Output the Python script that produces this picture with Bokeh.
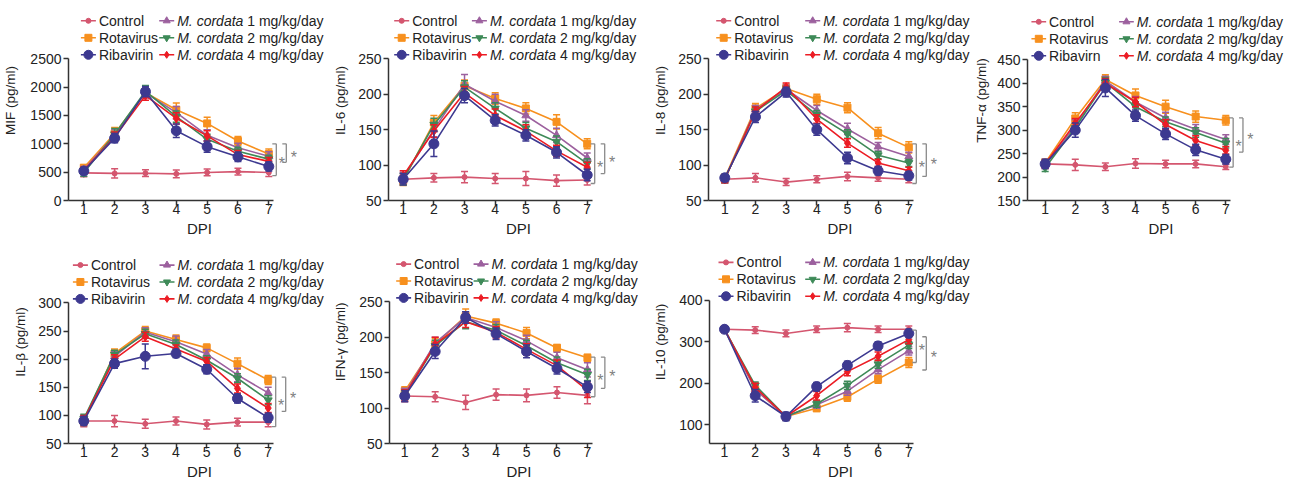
from bokeh.plotting import figure
from bokeh.models import Range1d, FixedTicker
from bokeh.layouts import row, column
from bokeh.embed import file_html
from bokeh.resources import INLINE
from bokeh.core.properties import value

# ---------------- data ----------------
DPI = [1, 2, 3, 4, 5, 6, 7]
GROUPS = ["Control", "Rotavirus", "Ribavirin", "M1", "M2", "M4"]

# MIF (pg/ml)
MIF_CONTROL = [488, 478, 482, 470, 495, 510, 495]
MIF_ROTA = [575, 1180, 1900, 1600, 1360, 1050, 820]
MIF_RIBA = [520, 1100, 1920, 1230, 950, 770, 600]
MIF_M1 = [540, 1150, 1900, 1550, 1150, 930, 780]
MIF_M2 = [490, 1170, 1930, 1480, 1080, 870, 730]
MIF_M4 = [530, 1120, 1850, 1450, 1140, 810, 690]
MIF_ERR_CONTROL = [70, 80, 60, 70, 60, 60, 70]
MIF_ERR_ROTA = [60, 110, 80, 120, 110, 80, 90]
MIF_ERR_RIBA = [60, 80, 90, 120, 100, 80, 80]
MIF_ERR_M1 = [60, 100, 90, 110, 100, 80, 80]
MIF_ERR_M2 = [60, 100, 100, 100, 90, 70, 70]
MIF_ERR_M4 = [60, 90, 80, 100, 90, 70, 70]

# IL-6
IL6_CONTROL = [80, 82, 83, 81, 81, 78, 79]
IL6_ROTA = [78, 160, 212, 194, 180, 161, 130]
IL6_RIBA = [80, 130, 198, 163, 142, 118, 86]
IL6_M1 = [82, 150, 214, 190, 170, 142, 110]
IL6_M2 = [80, 157, 210, 180, 152, 133, 102]
IL6_M4 = [85, 148, 202, 170, 148, 120, 97]
IL6_ERR_CONTROL = [8, 6, 8, 7, 10, 8, 7]
IL6_ERR_ROTA = [7, 10, 8, 8, 8, 10, 7]
IL6_ERR_RIBA = [8, 18, 10, 8, 8, 8, 8]
IL6_ERR_M1 = [8, 10, 14, 10, 8, 10, 7]
IL6_ERR_M2 = [8, 9, 9, 8, 8, 8, 7]
IL6_ERR_M4 = [7, 9, 9, 9, 9, 8, 7]

# IL-8
IL8_CONTROL = [80, 82, 76, 80, 84, 82, 80]
IL8_ROTA = [82, 180, 208, 193, 181, 145, 125]
IL8_RIBA = [82, 168, 203, 150, 110, 92, 85]
IL8_M1 = [80, 178, 207, 177, 151, 126, 112]
IL8_M2 = [80, 176, 205, 171, 144, 114, 103]
IL8_M4 = [80, 176, 210, 165, 131, 103, 92]
IL8_ERR_CONTROL = [5, 6, 5, 5, 6, 5, 5]
IL8_ERR_ROTA = [5, 7, 6, 7, 7, 8, 8]
IL8_ERR_RIBA = [5, 8, 7, 8, 8, 6, 6]
IL8_ERR_M1 = [5, 6, 6, 7, 8, 6, 6]
IL8_ERR_M2 = [5, 6, 6, 6, 6, 5, 5]
IL8_ERR_M4 = [5, 6, 6, 6, 6, 5, 5]

# TNF-alpha
TNF_CONTROL = [228, 226, 222, 229, 228, 228, 222]
TNF_ROTA = [230, 325, 408, 374, 350, 329, 321]
TNF_RIBA = [228, 300, 390, 331, 292, 258, 238]
TNF_M1 = [226, 310, 405, 360, 326, 302, 280]
TNF_M2 = [220, 305, 402, 350, 318, 295, 272]
TNF_M4 = [228, 315, 400, 360, 312, 278, 257]
TNF_ERR_CONTROL = [10, 12, 8, 10, 8, 8, 6]
TNF_ERR_ROTA = [8, 12, 10, 14, 14, 12, 10]
TNF_ERR_RIBA = [10, 15, 18, 12, 12, 12, 10]
TNF_ERR_M1 = [8, 12, 10, 12, 12, 10, 10]
TNF_ERR_M2 = [8, 10, 10, 10, 10, 10, 10]
TNF_ERR_M4 = [8, 10, 10, 10, 10, 10, 8]

# IL-beta
ILB_CONTROL = [90, 90, 85, 90, 84, 88, 88]
ILB_ROTA = [90, 210, 250, 235, 220, 192, 163]
ILB_RIBA = [90, 192, 205, 210, 182, 130, 96]
ILB_M1 = [92, 205, 248, 231, 209, 172, 140]
ILB_M2 = [94, 208, 245, 226, 198, 166, 127]
ILB_M4 = [92, 200, 240, 218, 196, 148, 113]
ILB_ERR_CONTROL = [10, 10, 8, 7, 8, 7, 8]
ILB_ERR_ROTA = [8, 8, 8, 8, 7, 10, 8]
ILB_ERR_RIBA = [8, 8, 22, 7, 8, 8, 8]
ILB_ERR_M1 = [8, 8, 8, 10, 8, 12, 10]
ILB_ERR_M2 = [8, 8, 8, 8, 8, 8, 8]
ILB_ERR_M4 = [8, 8, 8, 7, 7, 8, 8]

# IFN-gamma
IFN_CONTROL = [117, 116, 108, 119, 118, 122, 118]
IFN_ROTA = [124, 190, 230, 220, 206, 185, 171]
IFN_RIBA = [117, 180, 228, 205, 180, 156, 130]
IFN_M1 = [120, 192, 228, 214, 195, 171, 154]
IFN_M2 = [118, 188, 222, 210, 188, 164, 147]
IFN_M4 = [118, 190, 222, 207, 183, 160, 125]
IFN_ERR_CONTROL = [8, 7, 10, 8, 9, 8, 12]
IFN_ERR_ROTA = [6, 8, 10, 6, 8, 5, 5]
IFN_ERR_RIBA = [8, 10, 8, 8, 9, 8, 8]
IFN_ERR_M1 = [8, 8, 8, 8, 8, 8, 10]
IFN_ERR_M2 = [6, 8, 10, 8, 8, 8, 8]
IFN_ERR_M4 = [8, 10, 8, 8, 8, 8, 10]

# IL-10
IL10_CONTROL = [330, 328, 320, 330, 334, 330, 330]
IL10_ROTA = [330, 185, 120, 140, 167, 210, 250]
IL10_RIBA = [330, 170, 120, 192, 243, 290, 320]
IL10_M1 = [330, 185, 120, 148, 181, 233, 278]
IL10_M2 = [330, 195, 120, 150, 195, 246, 292]
IL10_M4 = [330, 190, 120, 170, 228, 265, 305]
IL10_ERR_CONTROL = [8, 8, 8, 8, 10, 8, 8]
IL10_ERR_ROTA = [6, 10, 8, 8, 10, 10, 12]
IL10_ERR_RIBA = [6, 15, 10, 10, 10, 10, 10]
IL10_ERR_M1 = [6, 10, 8, 8, 10, 10, 10]
IL10_ERR_M2 = [6, 8, 8, 8, 10, 10, 8]
IL10_ERR_M4 = [6, 10, 8, 10, 10, 10, 10]

# significance brackets: (top, bottom) for inner and outer bracket
MIF_BRACKETS = [(1000, 440), (1000, 674)]
IL6_BRACKETS = [(130, 74), (130, 88)]
IL8_BRACKETS = [(130, 74), (130, 84)]
TNF_BRACKETS = [(326, 221), (326, 253)]
ILB_BRACKETS = [(168, 80), (168, 107)]
IFN_BRACKETS = [(172, 116), (172, 128)]
IL10_BRACKETS = [(328, 250), (312, 232)]

Y_LABELS = ["MIF (pg/ml)", "IL-6 (pg/ml)", "IL-8 (pg/ml)", "TNF-\u03b1 (pg/ml)",
            "IL-\u03b2 (pg/ml)", "IFN-\u03b3 (pg/ml)", "IL-10 (pg/ml)"]
Y_TICKS = [[0, 500, 1000, 1500, 2000, 2500], [50, 100, 150, 200, 250],
           [50, 100, 150, 200, 250], [150, 200, 250, 300, 350, 400, 450],
           [50, 100, 150, 200, 250, 300], [50, 100, 150, 200, 250],
           [100, 200, 300, 400]]
Y_LOW = [0, 50, 50, 150, 50, 50, 55]

LEGEND_COL1 = ["Control", "Rotavirus", "Ribavirin"]
LEGEND_COL1_TNF = ["Control", "Rotavirus", "Ribavirn"]
LEGEND_ITALIC = "M. cordata"
LEGEND_DOSES = ["1 mg/kg/day", "2 mg/kg/day", "4 mg/kg/day"]

# ---------------- styling ----------------
FONT = "Liberation Sans"
AXC = "#333333"
TXT = "#222222"
STYLE = {
    "Control": dict(color="#d4566f", marker="circle", size=5),
    "Rotavirus": dict(color="#f7901e", marker="square", size=7),
    "Ribavirin": dict(color="#3d3990", marker="circle", size=10),
    "M1": dict(color="#9c609e", marker="triangle", size=8),
    "M2": dict(color="#3e8a58", marker="inverted_triangle", size=8),
    "M4": dict(color="#ec1c24", marker="diamond", size=9),
}
DRAW_ORDER = ["Control", "Rotavirus", "M1", "M2", "M4", "Ribavirin"]

# figure boxes (page px): left, width ; rows: top, height
COLS = [(0, 330), (330, 318), (648, 323), (971, 323)]
ROWS = [(0, 240), (240, 242)]

# per panel layout in page px: y-axis x, tick-1 x, tick-7 x, top tick y, x-axis y,
# legend col offsets, y axis label standoff
LAYOUT = [
    dict(col=0, row=0, ax=68, x1=83.3, x7=268.3, ytop=58.3, xaxis=200, c1=12.4, c2=90.7, std=9),
    dict(col=1, row=0, ax=388, x1=402.7, x7=586.7, ytop=58.3, xaxis=200, c1=5.7, c2=83.4, std=7),
    dict(col=2, row=0, ax=708, x1=724.3, x7=908.3, ytop=58.3, xaxis=200, c1=7.7, c2=96.7, std=7),
    dict(col=3, row=0, ax=1022, x1=1040, x7=1224, ytop=59.3, xaxis=200, c1=4.0, c2=93.3, std=5),
    dict(col=0, row=1, ax=68, x1=83.3, x7=267.7, ytop=302.7, xaxis=444, c1=4.4, c2=91.0, std=7),
    dict(col=1, row=1, ax=388, x1=403.3, x7=586.7, ytop=301.7, xaxis=444, c1=6.7, c2=84.4, std=8),
    dict(col=2, row=1, ax=709, x1=724, x7=908.3, ytop=300, xaxis=444, c1=9.0, c2=95.7, std=8),
]

PANEL_DATA = [
    ([MIF_CONTROL, MIF_ROTA, MIF_RIBA, MIF_M1, MIF_M2, MIF_M4],
     [MIF_ERR_CONTROL, MIF_ERR_ROTA, MIF_ERR_RIBA, MIF_ERR_M1, MIF_ERR_M2, MIF_ERR_M4], MIF_BRACKETS),
    ([IL6_CONTROL, IL6_ROTA, IL6_RIBA, IL6_M1, IL6_M2, IL6_M4],
     [IL6_ERR_CONTROL, IL6_ERR_ROTA, IL6_ERR_RIBA, IL6_ERR_M1, IL6_ERR_M2, IL6_ERR_M4], IL6_BRACKETS),
    ([IL8_CONTROL, IL8_ROTA, IL8_RIBA, IL8_M1, IL8_M2, IL8_M4],
     [IL8_ERR_CONTROL, IL8_ERR_ROTA, IL8_ERR_RIBA, IL8_ERR_M1, IL8_ERR_M2, IL8_ERR_M4], IL8_BRACKETS),
    ([TNF_CONTROL, TNF_ROTA, TNF_RIBA, TNF_M1, TNF_M2, TNF_M4],
     [TNF_ERR_CONTROL, TNF_ERR_ROTA, TNF_ERR_RIBA, TNF_ERR_M1, TNF_ERR_M2, TNF_ERR_M4], TNF_BRACKETS),
    ([ILB_CONTROL, ILB_ROTA, ILB_RIBA, ILB_M1, ILB_M2, ILB_M4],
     [ILB_ERR_CONTROL, ILB_ERR_ROTA, ILB_ERR_RIBA, ILB_ERR_M1, ILB_ERR_M2, ILB_ERR_M4], ILB_BRACKETS),
    ([IFN_CONTROL, IFN_ROTA, IFN_RIBA, IFN_M1, IFN_M2, IFN_M4],
     [IFN_ERR_CONTROL, IFN_ERR_ROTA, IFN_ERR_RIBA, IFN_ERR_M1, IFN_ERR_M2, IFN_ERR_M4], IFN_BRACKETS),
    ([IL10_CONTROL, IL10_ROTA, IL10_RIBA, IL10_M1, IL10_M2, IL10_M4],
     [IL10_ERR_CONTROL, IL10_ERR_ROTA, IL10_ERR_RIBA, IL10_ERR_M1, IL10_ERR_M2, IL10_ERR_M4], IL10_BRACKETS),
]

ITALIC_W = 70.0   # width in px of "M. cordata " at 14px


def make_panel(i):
    L = LAYOUT[i]
    fl, fw = COLS[L["col"]]
    ft, fh = ROWS[L["row"]]
    mbl = int(round(L["ax"] - fl))
    mbb = int(round(ft + fh - L["xaxis"]))
    frame_left = fl + mbl
    frame_right = fl + fw
    frame_top = ft
    frame_bottom = ft + fh - mbb
    ppx = (L["x7"] - L["x1"]) / 6.0
    x_start = 1 - (L["x1"] - frame_left) / ppx
    x_end = 7 + (frame_right - L["x7"]) / ppx
    ylo = Y_LOW[i]
    yhi = Y_TICKS[i][-1]
    upp = (yhi - ylo) / (frame_bottom - L["ytop"])
    y_end = ylo + (frame_bottom - frame_top) * upp

    p = figure(width=fw, height=fh, x_range=Range1d(x_start, x_end), y_range=Range1d(ylo, y_end),
               output_backend="svg", toolbar_location=None,
               min_border_left=mbl, min_border_right=0, min_border_top=0, min_border_bottom=mbb,
               outline_line_color=None, background_fill_color="white", border_fill_color="white")
    p.xgrid.visible = False
    p.ygrid.visible = False

    for a in (p.xaxis[0], p.yaxis[0]):
        a.axis_line_color = AXC
        a.axis_line_width = 1.5
        a.major_tick_line_color = AXC
        a.major_tick_line_width = 1.5
        a.major_tick_out = 5
        a.major_tick_in = 0
        a.minor_tick_out = 0
        a.minor_tick_in = 0
        a.major_label_text_font = FONT
        a.major_label_text_font_size = "14px"
        a.major_label_text_color = TXT
        a.axis_label_text_font = FONT
        a.axis_label_text_font_style = "normal"
        a.axis_label_text_color = TXT
    p.xaxis.ticker = FixedTicker(ticks=DPI)
    p.yaxis.ticker = FixedTicker(ticks=Y_TICKS[i])
    p.xaxis.bounds = (x_start, 7 + 5 / ppx)
    p.yaxis.bounds = (ylo, yhi)
    p.xaxis.axis_label = "DPI"
    p.xaxis.axis_label_text_font_size = "15px"
    p.xaxis.major_label_standoff = -2
    p.xaxis.axis_label_standoff = 3
    p.yaxis.axis_label = Y_LABELS[i]
    p.yaxis.axis_label_text_font_size = "13.5px"
    p.yaxis.major_label_standoff = 2
    p.yaxis.axis_label_standoff = L["std"]

    means, errs, brackets = PANEL_DATA[i]
    for g in DRAW_ORDER:
        k = GROUPS.index(g)
        st = STYLE[g]
        ys = means[k]
        es = errs[k]
        lo = [y - e for y, e in zip(ys, es)]
        hi = [y + e for y, e in zip(ys, es)]
        c = st["color"]
        p.line(DPI, ys, line_color=c, line_width=1.6)
        p.segment(DPI, lo, DPI, hi, line_color=c, line_width=1.5)
        p.scatter(DPI, hi, marker="dash", size=7, line_color=c, line_width=1.5)
        p.scatter(DPI, lo, marker="dash", size=7, line_color=c, line_width=1.5)
        p.scatter(DPI, ys, marker=st["marker"], size=st["size"], fill_color=c, line_color=c)

    # significance brackets
    bx = [7 + 7.5 / ppx, 7 + 17.5 / ppx]
    sx = [7 + 13 / ppx, 7 + 25 / ppx]
    tick = 4.0 / ppx
    for (top, bot), x, s in zip(brackets, bx, sx):
        p.segment([x, x - tick, x - tick], [top, top, bot], [x, x, x], [bot, top, bot],
                  line_color="#8a8a8a", line_width=1.3)
        p.text([s], [(top + bot) / 2.0], text=["*"], text_font=value(FONT), text_font_size="16px",
               text_color="#808080", text_align="center", text_baseline="middle", y_offset=4)

    # legend
    col1 = LEGEND_COL1_TNF if i == 3 else LEGEND_COL1
    rows_px = [38, 21, 4]

    def lx(px):
        return x_start + px / ppx

    def ly(px):
        return yhi + px * upp

    seg_len = 15.0
    for r, (g, lab) in enumerate(zip(["Control", "Rotavirus", "Ribavirin"], col1)):
        st = STYLE[g]
        y = ly(rows_px[r])
        p.line([lx(L["c1"]), lx(L["c1"] + seg_len)], [y, y], line_color=st["color"], line_width=1.6)
        p.scatter([lx(L["c1"] + seg_len / 2)], [y], marker=st["marker"],
                  size=st["size"] if g != "Ribavirin" else 9,
                  fill_color=st["color"], line_color=st["color"])
        p.text([lx(L["c1"] + 18)], [y], text=[lab], text_font=value(FONT), text_font_size="14px",
               text_color=TXT, text_align="left", text_baseline="middle")
    for r, (g, dose) in enumerate(zip(["M1", "M2", "M4"], LEGEND_DOSES)):
        st = STYLE[g]
        y = ly(rows_px[r])
        p.line([lx(L["c2"]), lx(L["c2"] + seg_len)], [y, y], line_color=st["color"], line_width=1.6)
        p.scatter([lx(L["c2"] + seg_len / 2)], [y], marker=st["marker"], size=7,
                  fill_color=st["color"], line_color=st["color"])
        p.text([lx(L["c2"] + 18)], [y], text=[LEGEND_ITALIC], text_font=value(FONT), text_font_size="14px",
               text_font_style="italic", text_color=TXT, text_align="left", text_baseline="middle")
        p.text([lx(L["c2"] + 18)], [y], text=[dose], text_font=value(FONT), text_font_size="14px",
               text_color=TXT, text_align="left", text_baseline="middle", x_offset=ITALIC_W)
    return p


panels = [make_panel(i) for i in range(7)]
layout = column(row(*panels[0:4]), row(*panels[4:7]))
open("out.html", "w").write(file_html(layout, INLINE))
